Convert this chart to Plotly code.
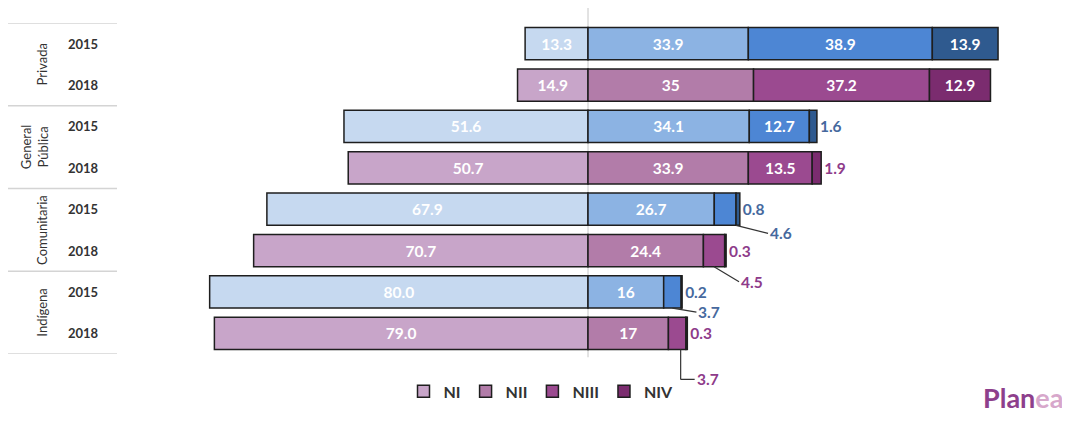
import plotly.graph_objects as go

groups = ["Privada", "General<br>Pública", "Comunitaria", "Indígena"]
years = ["2015", "2018"]
levels = ["NI", "NII", "NIII", "NIV"]

# values per level, per group (order: Privada, General Pública, Comunitaria, Indígena)
v2015 = {
    "NI":   [13.3, 51.6, 67.9, 80.0],
    "NII":  [33.9, 34.1, 26.7, 16],
    "NIII": [38.9, 12.7, 4.6, 3.7],
    "NIV":  [13.9, 1.6, 0.8, 0.2],
}
v2018 = {
    "NI":   [14.9, 50.7, 70.7, 79.0],
    "NII":  [35, 33.9, 24.4, 17],
    "NIII": [37.2, 13.5, 4.5, 3.7],
    "NIV":  [12.9, 1.9, 0.3, 0.3],
}
lbl2015 = {
    "NI":   ["13.3", "51.6", "67.9", "80.0"],
    "NII":  ["33.9", "34.1", "26.7", "16"],
    "NIII": ["38.9", "12.7", "4.6", "3.7"],
    "NIV":  ["13.9", "1.6", "0.8", "0.2"],
}
lbl2018 = {
    "NI":   ["14.9", "50.7", "70.7", "79.0"],
    "NII":  ["35", "33.9", "24.4", "17"],
    "NIII": ["37.2", "13.5", "4.5", "3.7"],
    "NIV":  ["12.9", "1.9", "0.3", "0.3"],
}

col2015 = {"NI": "#c6d9f0", "NII": "#8cb3e3", "NIII": "#4d86d4", "NIV": "#2f5a8f"}
col2018 = {"NI": "#c8a5c9", "NII": "#b27ca9", "NIII": "#9b4a90", "NIV": "#7b2c6f"}
out2015 = "#46699e"
out2018 = "#8e3b8a"

pos2015 = [0, 2, 4, 6]
pos2018 = [1, 3, 5, 7]
YMIN, YMAX = -0.5, 7.5

FONT = "Lato"
OFF = 8  # page body margin
FW, FH = 1070 - OFF, 421 - OFF
L, R = 117, 10
PH = 331
W = FW - L - R
HB = 0.39  # half bar width

def px(p):
    return (p - OFF - L) / W

def ypaper(v):
    return (YMAX - v) / (YMAX - YMIN)

fig = go.Figure()

def add(level, vals, lbls, pos, color, outc, show):
    xs = [-v for v in vals] if level == "NI" else vals
    if level == "NIII":
        text = [l if i < 2 else "" for i, l in enumerate(lbls)]
        tp = ["inside"] * 4
    elif level == "NIV":
        text = lbls
        tp = ["inside", "outside", "outside", "outside"]
    else:
        text = lbls
        tp = ["inside"] * 4
    fig.add_trace(go.Bar(
        x=xs, y=pos, orientation="h", name=level, width=2 * HB,
        marker=dict(color=color, line=dict(color="#1e1e1e", width=1.5)),
        text=text, textposition=tp, insidetextanchor="middle",
        insidetextfont=dict(color="white", size=15.5, family=FONT, weight="bold"),
        outsidetextfont=dict(color=outc, size=15.5, family=FONT, weight="bold"),
        textangle=0, constraintext="none", cliponaxis=False,
        showlegend=show, legendgroup=level, hoverinfo="skip",
    ))

for lv in levels:
    add(lv, v2015[lv], lbl2015[lv], pos2015, col2015[lv], out2015, False)
for lv in levels:
    add(lv, v2018[lv], lbl2018[lv], pos2018, col2018[lv], out2018, True)

# leader-line labels for small NIII values: (group idx, row, values, labels, color, frac along NIII, ax, ay)
leaders = [
    (2, pos2015[2], v2015, lbl2015, out2015, 1.0, 32, 8),
    (2, pos2018[2], v2018, lbl2018, out2018, 0.5, 25, 15),
    (3, pos2015[3], v2015, lbl2015, out2015, 0.5, 24, 4),
]
for gi, yp, vals, lbls, c, fr, ax, ay in leaders:
    xm = vals["NII"][gi] + vals["NIII"][gi] * fr
    fig.add_annotation(
        x=xm, y=yp + HB, xref="x", yref="y", text="<b>" + lbls["NIII"][gi] + "</b>",
        showarrow=True, arrowhead=0, arrowwidth=1.2, arrowcolor="#333",
        ax=ax, ay=ay, xanchor="left", yanchor="middle",
        font=dict(color=c, size=15.5, family=FONT),
    )

# elbow leader for Indígena 2018 NIII (drops below the plot area)
gi = 3
xm = v2018["NII"][gi] + v2018["NIII"][gi] * 0.7
ytop = ypaper(pos2018[gi] + HB)
ydrop = ytop - 30 / PH
fig.add_shape(type="line", xref="x", yref="paper", x0=xm, x1=xm, y0=ytop, y1=ydrop,
              line=dict(color="#333", width=1.2))
fig.add_annotation(
    x=xm, y=ydrop, xref="x", yref="paper", text="<b>" + lbl2018["NIII"][gi] + "</b>",
    showarrow=True, arrowhead=0, arrowwidth=1.2, arrowcolor="#333",
    ax=14, ay=0, xanchor="left", yanchor="middle",
    font=dict(color=out2018, size=15.5, family=FONT),
)

group_x = [42, 34, 42, 42]
for i in range(4):
    fig.add_annotation(x=px(83), y=pos2015[i], xref="paper", yref="y", text="<b>2015</b>",
                       xanchor="center", showarrow=False,
                       font=dict(size=13, color="#333", family=FONT))
    fig.add_annotation(x=px(83), y=pos2018[i], xref="paper", yref="y", text="<b>2018</b>",
                       xanchor="center", showarrow=False,
                       font=dict(size=13, color="#333", family=FONT))
    fig.add_annotation(x=px(group_x[i]), y=pos2015[i] + 0.5, xref="paper", yref="y",
                       text=groups[i], xanchor="center", yanchor="middle",
                       showarrow=False, textangle=-90,
                       font=dict(size=13, color="#333", family=FONT))

for yb in [-0.5, 1.5, 3.5, 5.5, 7.5]:
    fig.add_shape(type="line", xref="paper", yref="y", x0=px(8), x1=px(117), y0=yb, y1=yb,
                  line=dict(color="#d4d4d4", width=1.5))

fig.add_shape(type="line", xref="x", yref="paper", x0=0, x1=0, y0=-0.01, y1=1.05,
              line=dict(color="#d0d0d0", width=1.2), layer="below")

# logo
fig.add_annotation(x=1.005, y=-0.13, xref="paper", yref="paper", xanchor="right", yanchor="middle",
                   text="<b>Plan<span style='color:#d7a7cb'>ea</span></b>", showarrow=False,
                   font=dict(size=27, color="#8e3f8c", family=FONT))

fig.update_layout(
    width=FW, height=FH,
    margin=dict(l=L, r=R, t=15, b=FH - 15 - PH),
    barmode="relative",
    plot_bgcolor="white", paper_bgcolor="white",
    xaxis=dict(range=[-97.9, 99.8], visible=False, fixedrange=True),
    yaxis=dict(range=[YMAX, YMIN], visible=False, fixedrange=True),
    legend=dict(orientation="h", x=px(541), xanchor="center", y=-0.113, yanchor="middle",
                font=dict(size=16, color="#333", family=FONT, weight="bold"), traceorder="normal",
                itemwidth=30, tracegroupgap=0),
    font=dict(family=FONT),
)

fig.write_html("out.html")
